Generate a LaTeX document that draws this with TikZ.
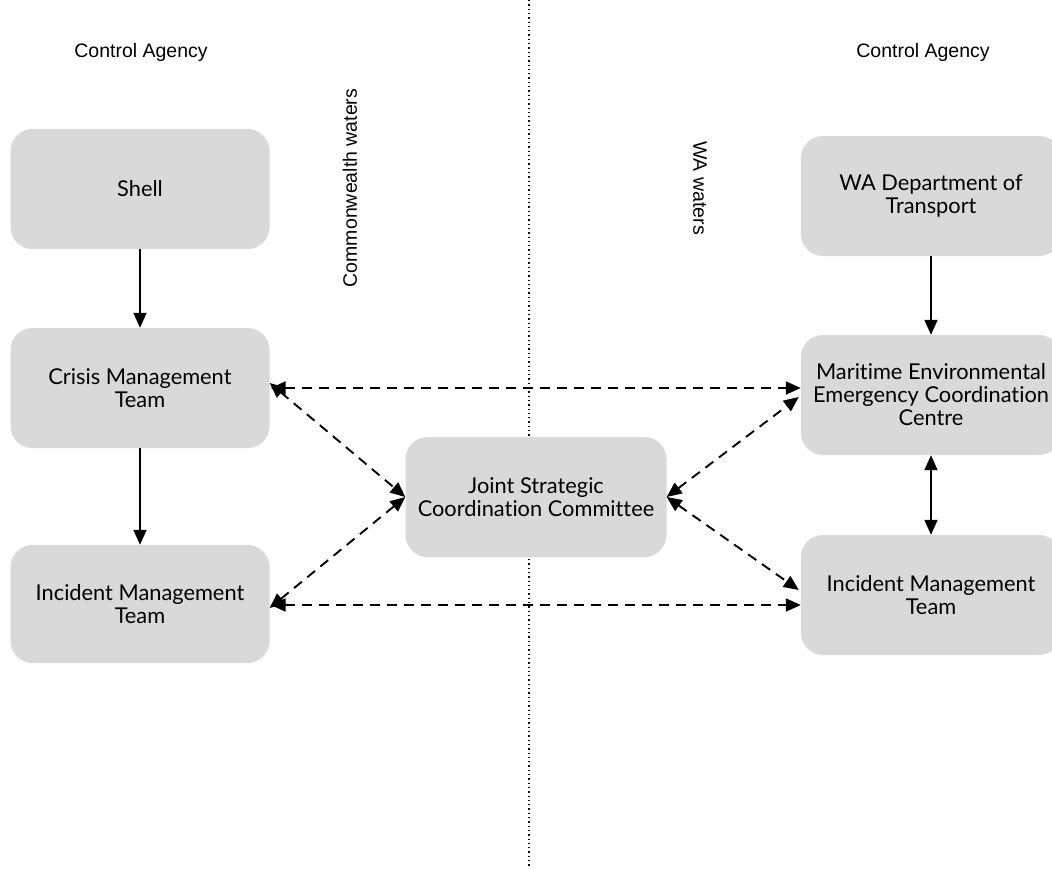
\documentclass[tikz,border=0pt]{standalone}
\usepackage{fontspec}
\setmainfont{Lato}[RawFeature=-liga]
\newfontfamily\labelfont{Liberation Sans}
\usetikzlibrary{arrows.meta}
\definecolor{boxgray}{HTML}{D9D9D9}
\begin{document}
\begin{tikzpicture}[x=1pt,y=-1pt,
  box/.style={fill=boxgray, rounded corners=22pt, minimum width=259pt, minimum height=120pt, align=center, font=\fontsize{21.8}{23}\selectfont, inner sep=0pt},
  lbl/.style={font=\labelfont\fontsize{19.5}{22}\selectfont, inner sep=0pt},
  tipshape/.tip={Triangle[length=15pt,width=13pt]},
  solidarrow/.style={line width=1.7pt, -tipshape},
  bothsolid/.style={line width=1.7pt, tipshape-tipshape},
  dasharrow/.style={line width=1.9pt, dash pattern=on 10pt off 7pt, tipshape-tipshape},
]
\useasboundingbox (0,0) rectangle (1052,868);
\clip (0,0) rectangle (1052,868);

% divider
\coordinate (dtop) at (529,0);
\coordinate (dbot) at (529,868);
\draw[line width=1.3pt, dash pattern=on 1.3pt off 3pt] (dtop) -- (dbot);

% labels
\node[lbl] (caL) at (141,52) {Control Agency};
\node[lbl] (caR) at (923,52) {Control Agency};
\node[lbl, rotate=90] (cw) at (350,188) {Commonwealth waters};
\node[lbl, rotate=-90] (waw) at (700,188) {WA waters};

% boxes
\node[box] (shell) at (140,189) {Shell};
\node[box] (cmt) at (140,388) {Crisis Management\\Team};
\node[box, minimum height=118pt] (imtl) at (140,604) {Incident Management\\Team};
\node[box, minimum width=261pt] (jscc) at (536,497) {Joint Strategic\\Coordination Committee};
\node[box, minimum width=260pt] (wadot) at (931,196) {WA Department of\\Transport};
\node[box, minimum width=260pt] (meecc) at (931,395) {Maritime Environmental\\Emergency Coordination\\Centre};
\node[box, minimum width=260pt] (imtr) at (931,595) {Incident Management\\Team};

% solid arrows
\draw[solidarrow] (shell.south) -- (cmt.north);
\draw[solidarrow] (cmt.south) -- (imtl.north);
\draw[solidarrow] (wadot.south) -- (meecc.north);
\draw[bothsolid] (meecc.south) -- (imtr.north);

% dashed arrows
\draw[dasharrow] (cmt.east) ++(1,0) coordinate (cmtE) -- (cmtE -| meecc.west);
\draw[dasharrow] ([yshift=0pt]imtl.east) ++(1,1) coordinate (imtlE) -- (imtlE -| imtr.west);
\draw[dasharrow] ([yshift=5pt]cmt.east) -- (jscc.west);
\draw[dasharrow] ([yshift=-4pt]imtl.east) -- (jscc.west);
\draw[dasharrow] (jscc.east) -- ([yshift=-2pt,xshift=-2pt]meecc.west);
\draw[dasharrow] (jscc.east) -- ([yshift=5pt,xshift=-2pt]imtr.west);
\end{tikzpicture}
\end{document}
